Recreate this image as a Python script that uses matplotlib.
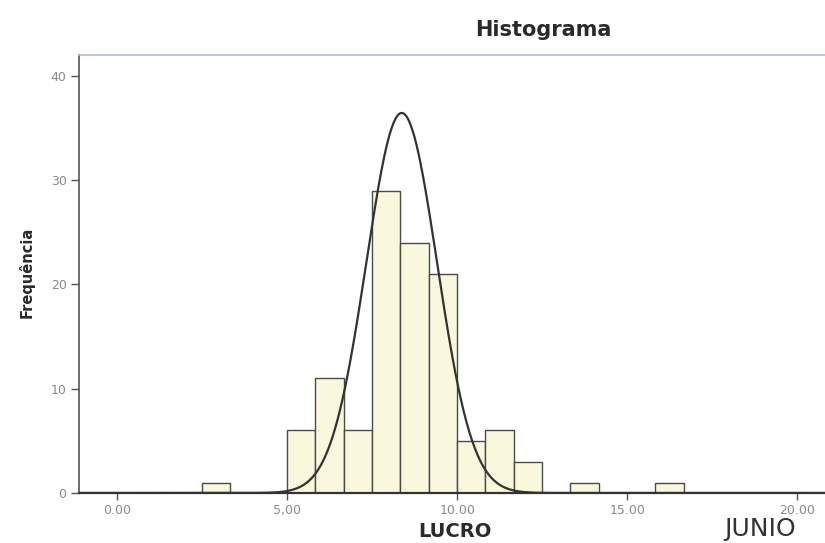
import numpy as np
import matplotlib
matplotlib.use("Agg")
import matplotlib.pyplot as plt

# histogram of LUCRO (bins of width 5/6 starting at 2.5)
bin_start = 2.5
bin_width = 5 / 6
counts = [1, 0, 0, 6, 11, 6, 29, 24, 21, 5, 6, 3, 0, 1, 0, 0, 1]

# fitted normal curve parameters
curve_mean = 8.37
curve_std = 1.04

x_ticks = [0, 5, 10, 15, 20]
x_tick_labels = ["0.00", "5,00", "10.00", "15.00", "20.00"]
y_ticks = [0, 10, 20, 30, 40]
y_tick_labels = ["0", "10", "20", "30", "40"]

fig = plt.figure(figsize=(8.25, 5.43), dpi=100)
ax = fig.add_axes([0.0958, 0.0921, 0.9042, 0.8066])

# bars
lefts = [bin_start + i * bin_width for i in range(len(counts))]
bl = [l for l, c in zip(lefts, counts) if c > 0]
bc = [c for c in counts if c > 0]
ax.bar(bl, bc, width=bin_width, align="edge", color="#f9f8dc",
       edgecolor="#4a4a4a", linewidth=1.0, zorder=2)

# normal curve scaled to the counts
n_total = sum(counts)
xs = np.linspace(-1.2, 21, 800)
ys = n_total * bin_width / (curve_std * np.sqrt(2 * np.pi)) * \
    np.exp(-0.5 * ((xs - curve_mean) / curve_std) ** 2)
ax.plot(xs, ys, color="#333333", linewidth=1.6, zorder=3)

ax.set_xlim(-1.12, 20.82)
ax.set_ylim(0, 42)

ax.set_xticks(x_ticks)
ax.set_xticklabels(x_tick_labels)
ax.set_yticks(y_ticks)
ax.set_yticklabels(y_tick_labels)
ax.tick_params(axis="x", direction="out", length=5, width=1.0, pad=3,
               labelsize=9, labelcolor="#8a8a8a", color="#555555")
ax.tick_params(axis="y", direction="out", length=6, width=1.0, pad=3,
               labelsize=9, labelcolor="#8a8a8a", color="#555555")

ax.spines["right"].set_visible(False)
ax.spines["top"].set_color("#b4bbd3")
ax.spines["top"].set_linewidth(1.2)
ax.spines["left"].set_color("#555555")
ax.spines["left"].set_linewidth(1.2)
ax.spines["bottom"].set_color("#333333")
ax.spines["bottom"].set_linewidth(1.6)
ax.spines["bottom"].set_zorder(4)

# texts
fig.text(543 / 825, 1 - 30 / 543, "Histograma", ha="center", va="center",
         fontsize=15, fontweight="bold", color="#2a2a2a")
fig.text(27 / 825, 1 - 272 / 543, "Frequência", ha="center", va="center",
         rotation=90, fontsize=10.5, fontweight="bold", color="#2a2a2a")
fig.text(455 / 825, 2 / 543, "LUCRO", ha="center", va="bottom",
         fontsize=14, fontweight="bold", color="#2a2a2a")
fig.text(760 / 825, 2 / 543, "JUNIO", ha="center", va="bottom",
         fontsize=18, color="#333333")

fig.savefig("out.png", dpi=100)
